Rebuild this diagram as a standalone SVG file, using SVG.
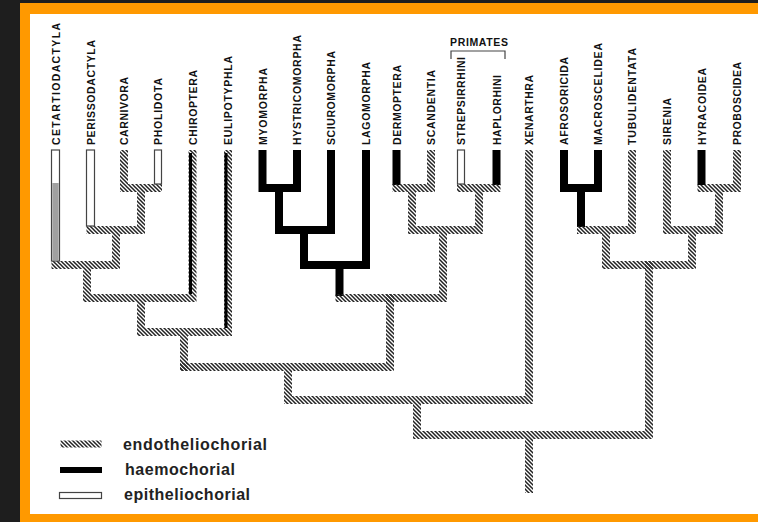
<svg xmlns="http://www.w3.org/2000/svg" width="758" height="522" viewBox="0 0 758 522">
<style>
.lbl{font-family:"Liberation Sans",Arial,sans-serif;font-weight:bold;font-size:10.5px;fill:#111}
.leg{font-family:"Liberation Sans",Arial,sans-serif;font-weight:bold;font-size:16px;fill:#222}
.endo{fill:none;stroke:url(#hatch);stroke-width:8;stroke-linecap:square;stroke-linejoin:miter}
.haem{fill:none;stroke:#000;stroke-width:8;stroke-linecap:butt;stroke-linejoin:miter}
.epi{fill:#fff;stroke:#444;stroke-width:1.2}
.core{fill:none;stroke:#000;stroke-width:3}
</style>
<defs>
<pattern id="hatch" patternUnits="userSpaceOnUse" width="4" height="4">
<path d="M-1,-1 L5,5 M-1,3 L1,5 M3,-1 L5,1" stroke="#222" stroke-width="1.5"/>
</pattern>
</defs>
<rect x="0" y="0" width="758" height="522" fill="#1e1e1e"/>
<rect x="20" y="3" width="738" height="519" fill="#ff9900"/>
<rect x="30" y="14" width="728" height="500" fill="#fff"/>

<g id="connectors">
<path class="endo" d="M124,154 V188 H158 M141,188 V230 M90.5,230 H141 M116,230 V265 M55.5,265 H116 M87,265 V298 H192.5 V154 M141,298 V332 H228 V154 M184,332 V367"/>
<path class="core" d="M190.5,153 V294 M226,153 V328"/>
<rect class="epi" x="51.5" y="150" width="8" height="111"/>
<rect x="52.3" y="183" width="6.4" height="77.2" fill="#a0a0a0"/>
<rect class="epi" x="86.5" y="150" width="8" height="76"/>
<rect class="epi" x="154.5" y="150" width="7" height="34"/>
<path class="haem" d="M262.5,150 V188 H297 V150"/>
<path class="haem" d="M279,188 V230 H331 V150"/>
<path class="haem" d="M304,230 V265 H366 V150"/>
<path class="haem" d="M339.5,265 V296"/>
<path class="haem" d="M396.5,150 V185 M496.5,150 V185"/>
<path class="endo" d="M396.5,188 H431 V154 M461,188 H496.5 M412,188 V230 H479 V188 M339.5,298 H443 V230"/>
<rect class="epi" x="457.5" y="150" width="7" height="34"/>
<path class="endo" d="M390,298 V367 M184,367 H390 M288,367 V400 H529 V154 M417,400 V435 H649 V265 M529,435 V489"/>
<path class="haem" d="M564,150 V188 H598 V150 M581,188 V227"/>
<path class="endo" d="M581,230 H632 V154 M606,230 V265 H692 M692,265 V230 M667,154 V230 H719 V188 M701.5,188 H737 V154"/>
<path class="haem" d="M701.5,150 V185"/>
</g>

<g id="n-cetartiodactyla"><text class="lbl" x="59.5" y="145" textLength="122" transform="rotate(-90 59.5 145)">CETARTIODACTYLA</text></g>
<g id="n-perissodactyla"><text class="lbl" x="94.5" y="145" textLength="105" transform="rotate(-90 94.5 145)">PERISSODACTYLA</text></g>
<g id="n-carnivora"><text class="lbl" x="128" y="145" textLength="68" transform="rotate(-90 128 145)">CARNIVORA</text></g>
<g id="n-pholidota"><text class="lbl" x="162" y="145" textLength="67" transform="rotate(-90 162 145)">PHOLIDOTA</text></g>
<g id="n-chiroptera"><text class="lbl" x="196.5" y="145" textLength="75" transform="rotate(-90 196.5 145)">CHIROPTERA</text></g>
<g id="n-eulipotyphla"><text class="lbl" x="232" y="145" textLength="89" transform="rotate(-90 232 145)">EULIPOTYPHLA</text></g>
<g id="n-myomorpha"><text class="lbl" x="266.5" y="145" textLength="77" transform="rotate(-90 266.5 145)">MYOMORPHA</text></g>
<g id="n-hystricomorpha"><text class="lbl" x="301" y="145" textLength="110" transform="rotate(-90 301 145)">HYSTRICOMORPHA</text></g>
<g id="n-sciuromorpha"><text class="lbl" x="335" y="145" textLength="94" transform="rotate(-90 335 145)">SCIUROMORPHA</text></g>
<g id="n-lagomorpha"><text class="lbl" x="370" y="145" textLength="83" transform="rotate(-90 370 145)">LAGOMORPHA</text></g>
<g id="n-dermoptera"><text class="lbl" x="400.5" y="145" textLength="80" transform="rotate(-90 400.5 145)">DERMOPTERA</text></g>
<g id="n-scandentia"><text class="lbl" x="435" y="145" textLength="75" transform="rotate(-90 435 145)">SCANDENTIA</text></g>
<g id="n-strepsirrhini"><text class="lbl" x="465" y="145" textLength="88" transform="rotate(-90 465 145)">STREPSIRRHINI</text></g>
<g id="n-haplorhini"><text class="lbl" x="500.5" y="145" textLength="70" transform="rotate(-90 500.5 145)">HAPLORHINI</text></g>
<g id="n-xenarthra"><text class="lbl" x="533" y="145" textLength="70" transform="rotate(-90 533 145)">XENARTHRA</text></g>
<g id="n-afrosoricida"><text class="lbl" x="568" y="145" textLength="88" transform="rotate(-90 568 145)">AFROSORICIDA</text></g>
<g id="n-macroscelidea"><text class="lbl" x="602" y="145" textLength="102" transform="rotate(-90 602 145)">MACROSCELIDEA</text></g>
<g id="n-tubulidentata"><text class="lbl" x="636" y="145" textLength="97" transform="rotate(-90 636 145)">TUBULIDENTATA</text></g>
<g id="n-sirenia"><text class="lbl" x="671" y="145" textLength="47" transform="rotate(-90 671 145)">SIRENIA</text></g>
<g id="n-hyracoidea"><text class="lbl" x="705.5" y="145" textLength="77" transform="rotate(-90 705.5 145)">HYRACOIDEA</text></g>
<g id="n-proboscidea"><text class="lbl" x="741" y="145" textLength="83" transform="rotate(-90 741 145)">PROBOSCIDEA</text></g>

<g id="primates">
<text class="lbl" x="450" y="46" textLength="58">PRIMATES</text>
<path d="M451,59 V51 H505 V59" fill="none" stroke="#444" stroke-width="1.2"/>
</g>

<g id="legend">
<path class="endo" d="M64,444 H98" style="stroke-width:7"/>
<text class="leg" x="123" y="450" textLength="144">endotheliochorial</text>
<rect x="60" y="467" width="42" height="6" fill="#000"/>
<text class="leg" x="125" y="475" textLength="110">haemochorial</text>
<rect class="epi" x="59.5" y="492.5" width="42" height="6"/>
<text class="leg" x="124" y="500" textLength="126">epitheliochorial</text>
</g>
</svg>
